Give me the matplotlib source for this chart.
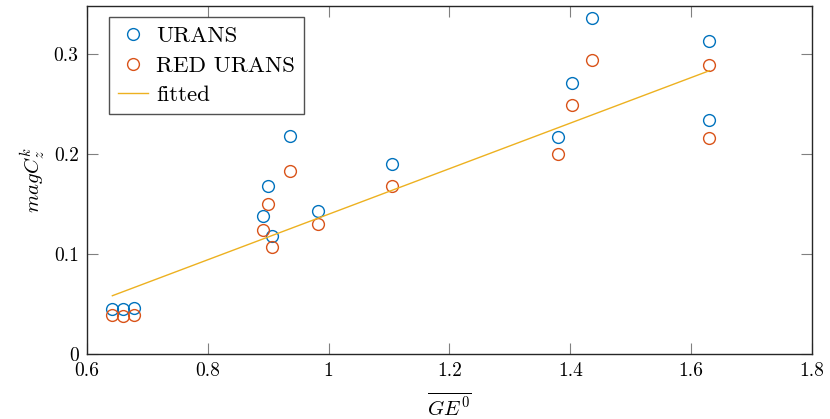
import matplotlib
matplotlib.use("Agg")
import matplotlib.pyplot as plt

plt.rcParams["font.family"] = "cmr10"
plt.rcParams["mathtext.fontset"] = "cm"
plt.rcParams["axes.formatter.use_mathtext"] = True

# Mean GE^0 per case
ge0 = [0.642, 0.660, 0.677, 0.891, 0.900, 0.906, 0.936, 0.982, 1.105,
       1.379, 1.4025, 1.4355, 1.630, 1.630]
# mag C_z^k, full URANS
urans = [0.0447, 0.0447, 0.0457, 0.138, 0.168, 0.118, 0.218, 0.143, 0.190,
         0.217, 0.271, 0.336, 0.313, 0.234]
# mag C_z^k, reduced URANS
red_urans = [0.0387, 0.0377, 0.039, 0.124, 0.150, 0.107, 0.183, 0.130, 0.168,
             0.1997, 0.249, 0.2937, 0.289, 0.2157]
# Linear fit
fit_slope = 0.2277
fit_intercept = -0.0879

xticks = [0.6, 0.8, 1.0, 1.2, 1.4, 1.6, 1.8]
xticklabels = ["0.6", "0.8", "1", "1.2", "1.4", "1.6", "1.8"]
yticks = [0, 0.1, 0.2, 0.3]
yticklabels = ["0", "0.1", "0.2", "0.3"]

blue = "#0072BD"
orange = "#D95319"
yellow = "#EDB120"

fig = plt.figure(figsize=(8.3, 4.19), dpi=100)
ax = fig.add_axes([0.1048, 0.1551, 0.8735, 0.8306])

ax.plot(ge0, urans, linestyle="none", marker="o", markersize=8.5,
        markerfacecolor="none", markeredgecolor=blue, markeredgewidth=1.0,
        label="URANS")
ax.plot(ge0, red_urans, linestyle="none", marker="o", markersize=8.5,
        markerfacecolor="none", markeredgecolor=orange, markeredgewidth=1.0,
        label="RED URANS")
xf = [min(ge0), max(ge0)]
yf = [fit_slope * x + fit_intercept for x in xf]
ax.plot(xf, yf, color=yellow, linewidth=1.0, label="fitted")

ax.set_xlim(0.6, 1.8)
ax.set_ylim(0, 0.348)
ax.set_xticks(xticks)
ax.set_xticklabels(xticklabels)
ax.set_yticks(yticks)
ax.set_yticklabels(yticklabels)
ax.tick_params(direction="in", length=8, width=0.8, color="#808080",
               top=True, right=True, labelsize=14, pad=6)
for s in ax.spines.values():
    s.set_linewidth(1.0)
    s.set_color("#262626")

ax.set_xlabel(r"$\overline{GE^0}$", fontsize=15, labelpad=9)
ax.set_ylabel(r"$magC_z^k$", fontsize=15, labelpad=4)

leg = ax.legend(loc="upper left", bbox_to_anchor=(0.0303, 0.968), fontsize=16.5,
                frameon=True, fancybox=False, edgecolor="#262626",
                handlelength=1.3, handletextpad=0.35, borderpad=0.4,
                labelspacing=0.4, borderaxespad=0.0)
leg.get_frame().set_linewidth(1.0)

fig.savefig("out.png", dpi=100)
